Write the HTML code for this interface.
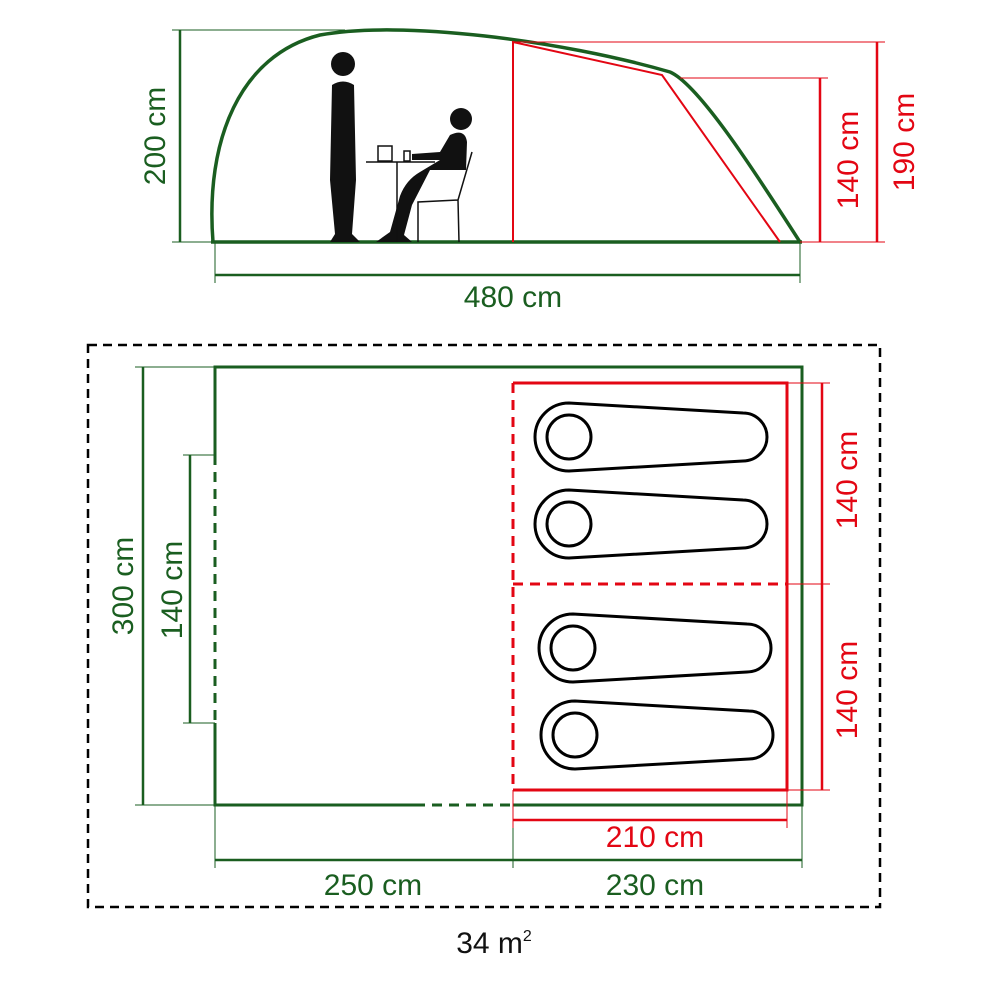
<!DOCTYPE html>
<html><head><style>
body{margin:0;background:#fff}
svg text{font-family:"Liberation Sans",sans-serif;font-size:30px}
</style></head><body>
<svg width="1000" height="1000" viewBox="0 0 1000 1000" xmlns="http://www.w3.org/2000/svg">
<defs>
<g id="bag">
<path d="M569,403 L743,413 A24,24 0 0 1 743,461 L569,471 A34,34 0 0 1 569,403 Z" fill="none" stroke="#000" stroke-width="3"/>
<circle cx="569" cy="437" r="22" fill="none" stroke="#000" stroke-width="3"/>
</g>
</defs>
<g stroke="#1a5e20" fill="none">
<!-- top profile -->
<path d="M213,242 C205,140 240,55 320,35 C400,20 560,40 670,72 C700,85 760,180 800,242" stroke-width="3.5"/>
<line x1="211" y1="242" x2="802" y2="242" stroke-width="3.5"/>
<line x1="180" y1="30" x2="180" y2="242" stroke-width="2.5"/>
<line x1="172" y1="30" x2="345" y2="30" stroke-width="1"/>
<line x1="172" y1="242" x2="213" y2="242" stroke-width="1"/>
<line x1="215" y1="275" x2="800" y2="275" stroke-width="2.5"/>
<line x1="215" y1="242" x2="215" y2="283" stroke-width="1"/>
<line x1="800" y1="242" x2="800" y2="283" stroke-width="1"/>
<!-- floor plan -->
<path d="M415,805 L215,805 L215,723 M215,455 L215,367 L802,367 L802,805 L513,805" stroke-width="3"/>
<line x1="415" y1="805" x2="513" y2="805" stroke-width="3" stroke-dasharray="10,7"/>
<line x1="215" y1="455" x2="215" y2="723" stroke-width="3" stroke-dasharray="10,7"/>
<line x1="143" y1="367" x2="143" y2="805" stroke-width="2.5"/>
<line x1="135" y1="367" x2="215" y2="367" stroke-width="1"/>
<line x1="135" y1="805" x2="215" y2="805" stroke-width="1"/>
<line x1="190" y1="455" x2="190" y2="723" stroke-width="2.5"/>
<line x1="183" y1="455" x2="215" y2="455" stroke-width="1"/>
<line x1="183" y1="723" x2="215" y2="723" stroke-width="1"/>
<line x1="215" y1="860" x2="802" y2="860" stroke-width="2.5"/>
<line x1="215" y1="805" x2="215" y2="868" stroke-width="1"/>
<line x1="513" y1="805" x2="513" y2="868" stroke-width="1"/>
<line x1="802" y1="805" x2="802" y2="868" stroke-width="1"/>
</g>
<g stroke="#e30613" fill="none">
<path d="M513,242 L513,42 L662,75 L780,242" stroke-width="2"/>
<line x1="513" y1="42" x2="885" y2="42" stroke-width="1"/>
<line x1="680" y1="78" x2="828" y2="78" stroke-width="1"/>
<line x1="800" y1="242" x2="885" y2="242" stroke-width="1"/>
<line x1="877" y1="42" x2="877" y2="242" stroke-width="2.5"/>
<line x1="820" y1="78" x2="820" y2="242" stroke-width="2.5"/>
<path d="M513,383 L787,383 L787,790 L513,790" stroke-width="3"/>
<line x1="513" y1="383" x2="513" y2="790" stroke-width="3" stroke-dasharray="10,7"/>
<line x1="513" y1="584" x2="787" y2="584" stroke-width="3" stroke-dasharray="10,7"/>
<line x1="787" y1="383" x2="830" y2="383" stroke-width="1"/>
<line x1="787" y1="584" x2="830" y2="584" stroke-width="1"/>
<line x1="787" y1="790" x2="830" y2="790" stroke-width="1"/>
<line x1="822" y1="383" x2="822" y2="790" stroke-width="2.5"/>
<line x1="513" y1="820" x2="787" y2="820" stroke-width="2.5"/>
<line x1="513" y1="790" x2="513" y2="828" stroke-width="1"/>
<line x1="787" y1="790" x2="787" y2="828" stroke-width="1"/>
</g>
<rect x="88" y="345" width="792" height="562" fill="none" stroke="#000" stroke-width="2.5" stroke-dasharray="9,6"/>
<use href="#bag"/>
<use href="#bag" transform="translate(0,87)"/>
<use href="#bag" transform="translate(4,211)"/>
<use href="#bag" transform="translate(6,298)"/>
<!-- people -->
<g fill="#111">
<circle cx="343" cy="64" r="12"/>
<path d="M332,85 Q343,78 354,85 L356,180 L352,234 L360,242 L330,242 L335,234 L330,180 Z"/>
<circle cx="461" cy="119" r="11"/>
<path d="M450,135 Q465,128 467,142 L466,170 L430,170 L412,205 L404,235 L412,242 L376,242 L390,232 L400,196 Q406,180 420,172 L440,160 L412,160 L412,154 L440,152 Z"/>
</g>
<g stroke="#111" fill="none" stroke-width="1.5">
<line x1="366" y1="162" x2="435" y2="162"/>
<line x1="397" y1="162" x2="397" y2="242"/>
<rect x="378" y="146" width="14" height="15" fill="#fff"/>
<rect x="404" y="151" width="6" height="10" fill="#fff"/>
<path d="M472,152 L458,200 L459,242 M458,200 L418,202 L418,242"/>
</g>
<!-- labels -->
<g fill="#1a5e20">
<text x="513" y="307" text-anchor="middle">480 cm</text>
<text transform="translate(165,136) rotate(-90)" text-anchor="middle">200 cm</text>
<text transform="translate(133,586) rotate(-90)" text-anchor="middle">300 cm</text>
<text transform="translate(182,590) rotate(-90)" text-anchor="middle">140 cm</text>
<text x="373" y="895" text-anchor="middle">250 cm</text>
<text x="655" y="895" text-anchor="middle">230 cm</text>
</g>
<g fill="#e30613">
<text transform="translate(858,160) rotate(-90)" text-anchor="middle">140 cm</text>
<text transform="translate(914,142) rotate(-90)" text-anchor="middle">190 cm</text>
<text transform="translate(857,480) rotate(-90)" text-anchor="middle">140 cm</text>
<text transform="translate(857,690) rotate(-90)" text-anchor="middle">140 cm</text>
<text x="655" y="847" text-anchor="middle">210 cm</text>
</g>
<text x="494" y="953" text-anchor="middle" fill="#111">34 m<tspan font-size="16" dy="-12">2</tspan></text>
</svg>
</body></html>
